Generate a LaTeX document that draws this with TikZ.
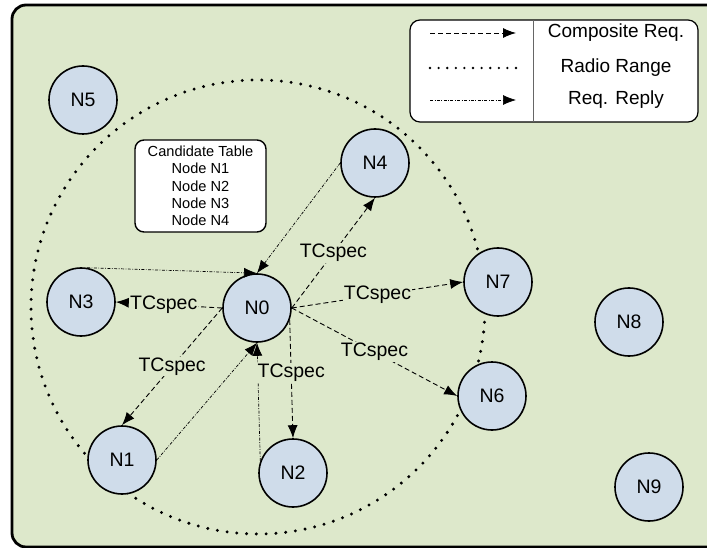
\documentclass[tikz,border=0pt]{standalone}
\usepackage{fontspec}
\setmainfont{Liberation Sans}
\usetikzlibrary{arrows.meta}
\definecolor{bggreen}{RGB}{221,232,203}
\definecolor{nodeblue}{RGB}{207,220,234}

\begin{document}
\begin{tikzpicture}[x=1pt,y=-1pt,
  station/.style={circle, draw=black, line width=1.6pt, fill=nodeblue,
    minimum size=68pt, inner sep=0pt, font=\fontsize{19.5}{22}\selectfont},
  tip/.style={-{Latex[length=13pt,width=10pt]}},
  compreq/.style={tip, line width=0.9pt, dash pattern=on 5pt off 3pt},
  reply/.style={tip, line width=0.7pt, dash pattern=on 3pt off 1.5pt on 0.8pt off 1.5pt},
  radio/.style={line width=3.3pt, line cap=round, dash pattern=on 0pt off 9.8pt},
  spec/.style={fill=bggreen, inner sep=1pt, font=\fontsize{19.5}{22}\selectfont},
  legtext/.style={font=\fontsize{19}{22}\selectfont},
]
\useasboundingbox (0,0) rectangle (707,548);

% field background
\begin{scope}
  \clip (0,0) rectangle (707,548);
  \draw[line width=2.8pt, fill=bggreen, rounded corners=14pt] (12,5) rectangle (740,547);
\end{scope}

% radio range of N0
\draw[radio] (258,307) circle [radius=227pt];

% legend
\node[draw, line width=1.2pt, fill=white, rounded corners=10pt,
  minimum width=288pt, minimum height=102pt, inner sep=0pt] (legend) at (554,71) {};
\draw[line width=0.9pt, black!60] (533,20) -- (533,122);
\node[legtext] (lcomp) at (616,33) {Composite Req.};
\node[legtext] (lradio) at (616,68) {Radio Range};
\node[legtext] (lreply) at (616,100) {Req. Reply};
\coordinate (ca) at (430,33);  \coordinate (cb) at (516,33);
\coordinate (ra) at (430,68);  \coordinate (rb) at (516,68);
\coordinate (pa) at (430,100); \coordinate (pb) at (516,100);
\draw[compreq] (ca) -- (cb);
\draw[radio, line width=2.6pt, dash pattern=on 0pt off 8.6pt] (ra) -- (rb);
\draw[reply] (pa) -- (pb);

% candidate table
\node[draw, fill=white, rounded corners=9pt, line width=1.4pt, align=center,
  font=\fontsize{14.6}{17.3}\selectfont, minimum width=131pt, minimum height=92pt,
  inner sep=0pt] (table) at (200.5,186)
  {Candidate Table\\Node N1\\Node N2\\Node N3\\Node N4};

% stations
\node[station] (n0) at (257,308) {N0};
\node[station] (n1) at (122,460) {N1};
\node[station] (n2) at (293,473) {N2};
\node[station] (n3) at (81,302) {N3};
\node[station] (n4) at (375,163) {N4};
\node[station] (n5) at (83,100) {N5};
\node[station] (n6) at (492,396) {N6};
\node[station] (n7) at (498,282) {N7};
\node[station] (n8) at (629,322) {N8};
\node[station] (n9) at (649,487) {N9};

% request replies
\draw[reply] (n3.80) -- (n0.north);
\draw[reply] (n4.west) -- (n0.north);
\draw[reply] (n1.east) -- (n0.south);
\draw[reply] (n2.160) -- (n0.south);

% composite requests
\draw[compreq] (n0.west) -- node[spec, pos=0.55] {TCspec} (n3.east);
\draw[compreq] (n0.east) -- node[spec, pos=0.5] {TCspec} (n4.south);
\draw[compreq] (n0.east) -- node[spec, pos=0.5] {TCspec} (n7.west);
\draw[compreq] (n0.east) -- node[spec, pos=0.5] {TCspec} (n6.west);
\draw[compreq] (n0.west) -- node[spec, pos=0.5] {TCspec} (n1.north);
\draw[compreq] (n0.-20) -- node[spec, pos=0.45] {TCspec} (n2.north);
\end{tikzpicture}
\end{document}
